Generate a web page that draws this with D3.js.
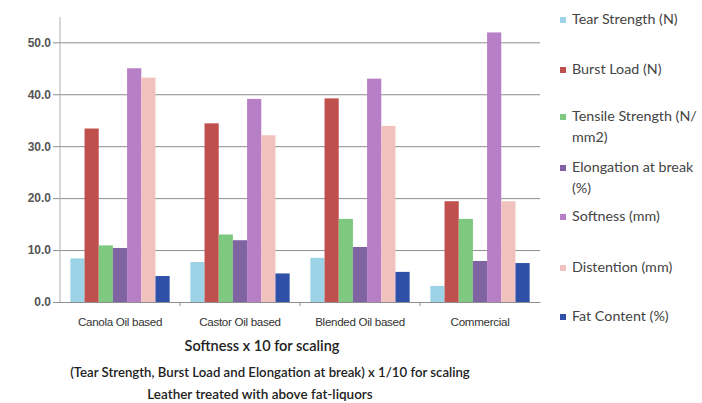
<!DOCTYPE html>
<html>
<head>
<meta charset="utf-8">
<script src="https://cdn.jsdelivr.net/npm/d3@7/dist/d3.min.js"></script>
<style>
  html, body { margin: 0; padding: 0; background: #fff; }
  svg { display: block; font-family: Lato, "Open Sans", sans-serif; }
</style>
</head>
<body>
<svg id="chart" width="702" height="403"></svg>
<script>
// Fat-liquor treated leather: physical properties per fat-liquor type
const categories = ["Canola Oil based", "Castor Oil based", "Blended Oil based", "Commercial"];
const seriesNames = [
  "Tear Strength (N)",
  "Burst Load (N)",
  "Tensile Strength (N/mm2)",
  "Elongation at break (%)",
  "Softness (mm)",
  "Distention (mm)",
  "Fat Content (%)"
];
const legendLines = [
  ["Tear Strength (N)"],
  ["Burst Load (N)"],
  ["Tensile Strength (N/", "mm2)"],
  ["Elongation at break", "(%)"],
  ["Softness (mm)"],
  ["Distention (mm)"],
  ["Fat Content (%)"]
];
const tearStrength   = [8.4, 7.7, 8.5, 3.1];
const burstLoad      = [33.4, 34.4, 39.2, 19.4];
const tensile        = [10.9, 13.0, 16.0, 16.0];
const elongation     = [10.4, 11.9, 10.6, 7.9];
const softness       = [45.0, 39.1, 43.0, 51.9];
const distention     = [43.2, 32.1, 33.9, 19.4];
const fatContent     = [5.0, 5.5, 5.8, 7.5];
const seriesValues = [tearStrength, burstLoad, tensile, elongation, softness, distention, fatContent];
const yTicks = [0, 10, 20, 30, 40, 50];
const captions = [
  "Softness x 10 for scaling",
  "(Tear Strength, Burst Load and Elongation at break) x 1/10 for scaling",
  "Leather treated with above fat-liquors"
];
const colors = ["#9dd3e7", "#c0504d", "#7ec87f", "#8064a2", "#b67fc6", "#f1c2bd", "#2e50a7"];

const svg = d3.select("#chart");
const plot = { left: 60, right: 540, top: 17, bottom: 302 };

const y = d3.scaleLinear().domain([0, 50]).range([plot.bottom, 42.3]);
const x0 = d3.scaleBand().domain(categories).range([plot.left, plot.right])
  .paddingInner(0.1725).paddingOuter(0.08625);
const x1 = d3.scaleBand().domain(seriesNames).range([0, x0.bandwidth()]).padding(0);

// gridlines + value axis labels
const yAxis = d3.axisLeft(y).tickValues(yTicks).tickFormat(d3.format(".1f"))
  .tickSize(-(plot.right - plot.left)).tickPadding(9);
const gy = svg.append("g").attr("transform", `translate(${plot.left},0)`).call(yAxis);
gy.select(".domain").remove();
gy.selectAll(".tick line").attr("stroke", "#8e8e8e").attr("stroke-width", 1).attr("x1", -7);
gy.selectAll(".tick text").attr("fill", "#555").attr("font-size", 12).attr("font-weight", 600);

// vertical axis line
svg.append("line").attr("x1", plot.left).attr("x2", plot.left)
  .attr("y1", plot.top).attr("y2", plot.bottom).attr("stroke", "#b0b0b0");

// bars
const groups = svg.append("g").selectAll("g").data(categories).join("g")
  .attr("transform", d => `translate(${x0(d)},0)`);
groups.selectAll("rect")
  .data((c, ci) => seriesNames.map((s, si) => ({ s, si, v: seriesValues[si][ci] })))
  .join("rect")
  .attr("x", d => x1(d.s))
  .attr("width", x1.bandwidth())
  .attr("y", d => y(d.v))
  .attr("height", d => y(0) - y(d.v))
  .attr("fill", d => colors[d.si]);

// category axis
const xAxis = d3.axisBottom(x0).tickSize(0).tickPadding(16);
const gx = svg.append("g").attr("transform", `translate(0,${plot.bottom})`).call(xAxis);
gx.select(".domain").attr("stroke", "#8e8e8e");
gx.selectAll(".tick text").attr("fill", "#333").attr("font-size", 11.6)
  .attr("letter-spacing", "-0.3px");
// boundary tick marks between categories
const bounds = categories.slice(1).map(c => x0(c) - x0.step() * x0.paddingInner() / 2);
svg.append("g").selectAll("line").data(bounds).join("line")
  .attr("x1", d => d).attr("x2", d => d)
  .attr("y1", plot.bottom).attr("y2", plot.bottom + 4)
  .attr("stroke", "#8e8e8e");

// captions under the axis
const capY = [347, 374, 396];
const capSize = [14.5, 13.2, 13.5];
svg.append("g").selectAll("text").data(captions).join("text")
  .attr("x", (d, i) => [262, 270, 260][i])
  .attr("y", (d, i) => capY[i])
  .attr("text-anchor", "middle")
  .attr("dominant-baseline", "middle")
  .attr("font-size", (d, i) => capSize[i])
  .attr("font-weight", 600)
  .attr("fill", "#222")
  .text(d => d);

// legend
const legendY = [20, 70, 117, 168, 217, 268, 317];
const leg = svg.append("g").selectAll("g").data(legendLines).join("g")
  .attr("transform", (d, i) => `translate(560,${legendY[i]})`);
leg.append("rect").attr("x", 0).attr("y", -3).attr("width", 6).attr("height", 6)
  .attr("fill", (d, i) => colors[i]);
leg.each(function (lines) {
  d3.select(this).selectAll("text").data(lines).join("text")
    .attr("x", 12)
    .attr("y", (d, i) => i * 21)
    .attr("dominant-baseline", "middle")
    .attr("font-size", 14.3)
    .attr("fill", "#444")
    .text(d => d);
});
</script>
</body>
</html>
